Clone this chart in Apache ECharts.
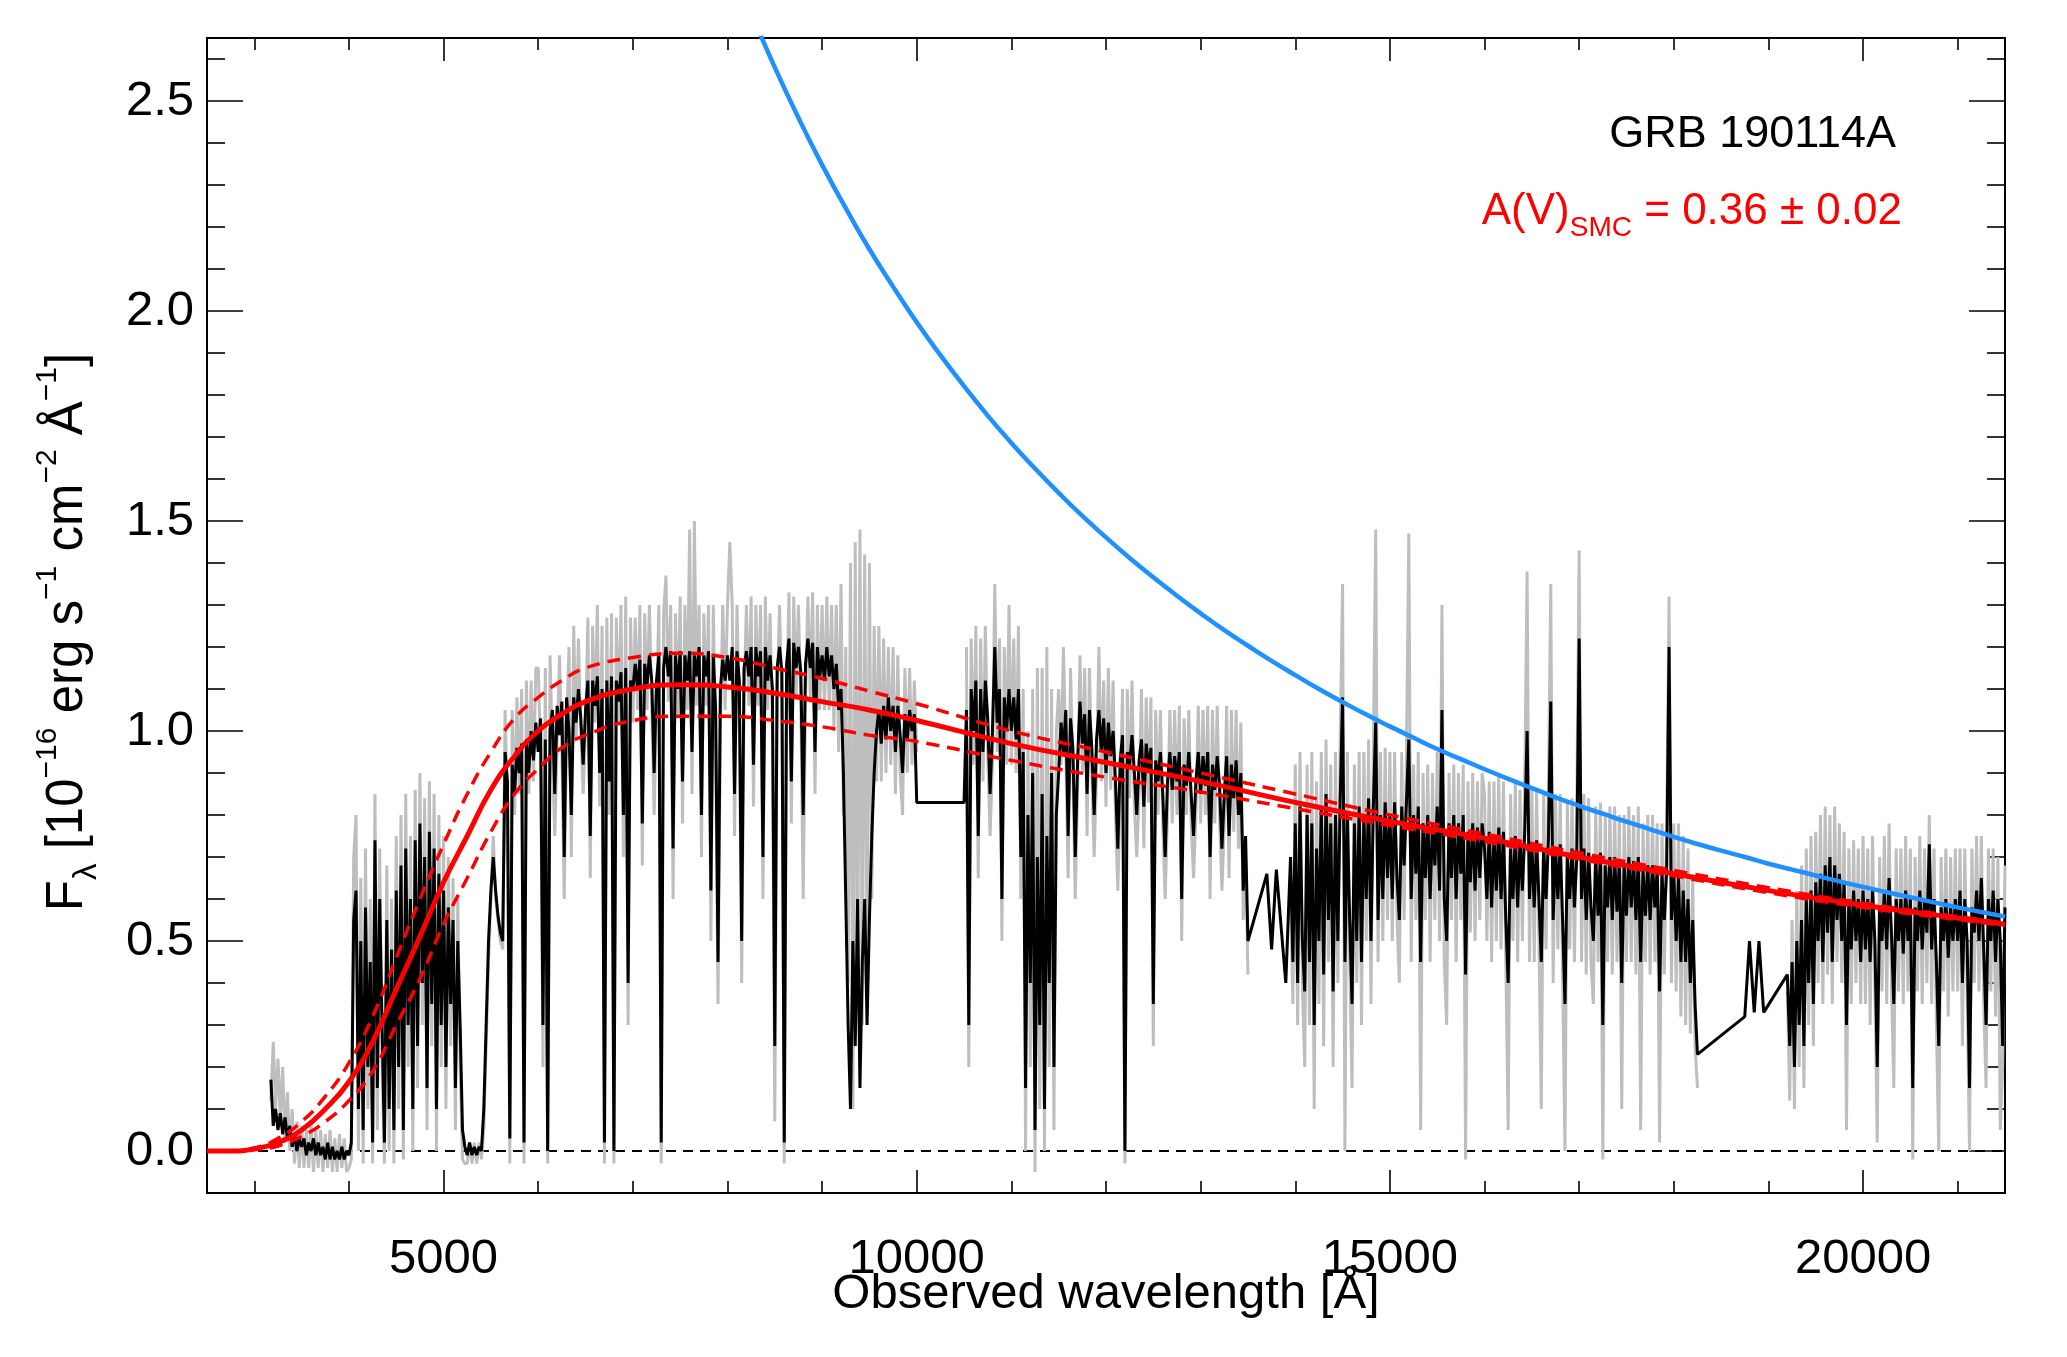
<!DOCTYPE html>
<html>
<head>
<meta charset="utf-8">
<script src="https://cdn.jsdelivr.net/npm/echarts@6/dist/echarts.min.js"></script>
<style>
  html, body { margin: 0; padding: 0; background: #fff; }
  #chart { width: 2067px; height: 1357px; }
</style>
</head>
<body>
<div id="chart"></div>
<script>
// spectrum sampled every 25 A starting at 3000 A (one row = 1000 A)
const waveStart = 3000;
const waveStep = 25;

// binned spectrum (black)
const blackFlux = [
  // 3000
  null, null, null, null, null, null, null, 0.17, 0.06, 0.1, 0.05, 0.09, 0.04, 0.08, 0.03, 0.06, 0.01, 0.04, 0.0, 0.03,
  0.01, 0.03, -0.01, 0.02, 0.0, 0.03, -0.01, 0.02, -0.01, 0.01, -0.02, 0.02, -0.02, 0.01, -0.02, 0.0, -0.02, 0.01, -0.02, 0.0,
  // 4000
  -0.01, 0.02, 0.55, 0.62, 0.1, 0.5, 0.05, 0.58, 0.2, 0.45, 0.02, 0.74, 0.15, 0.6, 0.3, 0.02, 0.55, 0.1, 0.48, 0.05,
  0.62, 0.2, 0.68, 0.05, 0.72, 0.3, 0.6, 0.1, 0.74, 0.25, 0.78, 0.4, 0.7, 0.15, 0.76, 0.35, 0.72, 0.1, 0.66, 0.3,
  // 5000
  0.62, 0.2, 0.58, 0.35, 0.55, 0.15, 0.5, 0.3, 0.05, 0.01, -0.01, 0.02, -0.01, 0.01, -0.01, 0.01, 0.0, 0.1, 0.3, 0.5,
  0.62, 0.7, 0.62, 0.56, 0.52, 0.5, 0.95, 0.88, 0.03, 0.92, 0.85, 0.96, 0.9, 0.97, 0.02, 0.98, 0.9, 1.0, 0.93, 1.02,
  // 6000
  0.95, 1.03, 0.3, 0.98, 0.0, 1.0, 1.05, 0.85, 1.06, 0.99, 1.07, 0.7, 1.08, 1.0, 0.8, 1.08, 1.02, 1.1, 1.03, 0.92,
  1.05, 1.12, 0.75, 1.12, 1.06, 1.13, 0.9, 1.1, 0.02, 1.12, 0.88, 1.13, 0.0, 1.12, 1.07, 1.14, 0.8, 1.15, 0.4, 1.12,
  // 7000
  1.1, 1.16, 1.1, 1.17, 0.78, 1.16, 1.11, 1.18, 1.12, 0.9, 1.12, 1.18, 0.02, 1.15, 1.2, 1.13, 1.19, 0.72, 1.18, 1.1,
  1.19, 0.88, 1.18, 1.12, 1.19, 0.95, 1.18, 1.13, 1.2, 0.8, 1.18, 1.13, 1.19, 0.62, 1.18, 1.05, 0.45, 1.1, 1.17, 1.12,
  // 8000
  1.18, 1.12, 1.2, 0.85, 1.19, 1.12, 0.5, 1.15, 1.19, 1.13, 1.2, 0.92, 1.2, 1.13, 1.19, 0.7, 1.2, 1.12, 1.18, 1.1,
  0.25, 1.15, 1.2, 1.14, 0.02, 1.16, 1.22, 0.88, 1.21, 1.15, 1.2, 1.14, 0.8, 1.16, 1.22, 1.15, 1.21, 0.95, 1.2, 1.13,
  // 9000
  1.18, 1.12, 1.2, 1.13, 1.18, 1.1, 1.16, 1.05, 1.1, 0.9, 0.6, 0.3, 0.1, 0.5, 0.25, 0.6, 0.15, 0.45, 0.6, 0.3,
  0.55, 0.75, 0.9, 1.0, 1.05, 0.97, 1.06, 0.98, 1.08, 1.0, 1.06, 0.95, 1.06, 0.99, 0.9, 1.04, 0.98, 1.05, 1.0, 1.04,
  // 10000
  0.83, null, null, null, null, null, null, null, null, null, null, null, null, null, null, null, null, null, null, null,
  0.83, 1.05, 0.3, 1.1, 1.0, 1.12, 0.75, 1.1, 0.95, 1.12, 1.03, 0.85, 1.0, 1.2, 1.02, 1.1, 0.6, 1.08, 1.0, 1.1,
  // 11000
  1.0, 1.08, 0.98, 1.1, 0.7, 0.95, 0.15, 0.8, 0.4, 0.9, 0.05, 0.7, 0.3, 0.85, 0.1, 0.75, 0.4, 0.9, 0.2, 0.8,
  0.9, 1.02, 0.95, 1.05, 0.75, 1.03, 0.96, 0.7, 0.93, 1.07, 0.97, 1.04, 0.85, 1.05, 0.96, 0.8, 0.98, 1.05, 0.95, 1.03,
  // 12000
  0.9, 1.02, 0.94, 1.0, 0.88, 0.72, 0.93, 0.99, 0.0, 0.95, 0.92, 0.99, 0.9, 0.8, 0.93, 0.98, 0.82, 0.97, 0.91, 0.96,
  0.35, 0.93, 0.88, 0.95, 0.85, 0.7, 0.88, 0.95, 0.86, 0.94, 0.88, 0.95, 0.6, 0.92, 0.87, 0.95, 0.85, 0.75, 0.88, 0.95,
  // 13000
  0.85, 0.94, 0.87, 0.95, 0.7, 0.92, 0.86, 0.94, 0.87, 0.72, 0.85, 0.94, 0.75, 0.92, 0.84, 0.93, 0.8, 0.9, 0.62, 0.75,
  0.5, null, null, null, null, null, null, null, 0.66, null, 0.48, null, 0.67, null, null, null, 0.4, null, 0.7, 0.45,
  // 14000
  0.78, 0.4, 0.82, 0.5, 0.38, 0.8, 0.45, 0.78, 0.3, 0.72, 0.5, 0.82, 0.42, 0.85, 0.55, 0.78, 0.38, 0.8, 0.5, 0.84,
  1.08, 0.45, 0.8, 0.55, 0.35, 0.78, 0.5, 0.82, 0.45, 0.8, 0.6, 0.84, 0.5, 0.82, 1.02, 0.55, 0.8, 0.6, 0.83, 0.65,
  // 15000
  0.8, 0.6, 0.83, 0.65, 0.55, 0.82, 0.68, 0.83, 0.98, 0.6, 0.8, 0.66, 0.82, 0.45, 0.78, 0.65, 0.8, 0.6, 0.78, 0.68,
  0.82, 0.62, 1.05, 0.6, 0.5, 0.78, 0.65, 0.8, 0.6, 0.78, 0.66, 0.8, 0.42, 0.76, 0.64, 0.78, 0.62, 0.77, 0.65, 0.78,
  // 16000
  0.72, 0.6, 0.76, 0.58, 0.75, 0.62, 0.77, 0.6, 0.76, 0.55, 0.4, 0.72, 0.6, 0.75, 0.58, 0.74, 0.62, 0.76, 1.0, 0.6,
  0.73, 0.58, 0.74, 0.6, 0.45, 0.72, 0.6, 0.74, 1.07, 0.55, 0.72, 0.6, 0.73, 0.55, 0.35, 0.7, 0.6, 0.72, 0.58, 0.7,
  // 17000
  1.22, 0.6, 0.72, 0.55, 0.71, 0.58, 0.5, 0.7, 0.56, 0.71, 0.3, 0.68, 0.58, 0.7, 0.55, 0.7, 0.57, 0.69, 0.4, 0.68,
  0.56, 0.7, 0.58, 0.69, 0.55, 0.7, 0.45, 0.67, 0.56, 0.68, 0.55, 0.68, 0.58, 0.67, 0.38, 0.66, 0.55, 0.67, 1.2, 0.55,
  // 18000
  0.66, 0.5, 0.65, 0.45, 0.62, 0.45, 0.6, 0.4, 0.55, 0.35, 0.23, null, null, null, null, null, null, null, null, null,
  null, null, null, null, null, null, null, null, null, null, 0.32, null, 0.5, null, 0.33, null, 0.5, null, 0.33, null,
  // 19000
  null, null, null, null, null, null, null, null, 0.42, 0.25, 0.45, 0.2, 0.5, 0.3, 0.55, 0.25, 0.6, 0.4, 0.62, 0.35,
  0.64, 0.5, 0.66, 0.45, 0.68, 0.52, 0.7, 0.45, 0.68, 0.55, 0.66, 0.5, 0.64, 0.3, 0.6, 0.48, 0.62, 0.5, 0.6, 0.45,
  // 20000
  0.62, 0.48, 0.6, 0.45, 0.62, 0.5, 0.2, 0.58, 0.5, 0.62, 0.48, 0.65, 0.52, 0.35, 0.6, 0.5, 0.6, 0.47, 0.62, 0.5,
  0.6, 0.15, 0.58, 0.5, 0.62, 0.48, 0.6, 0.52, 0.73, 0.48, 0.6, 0.45, 0.25, 0.58, 0.5, 0.6, 0.46, 0.58, 0.5, 0.6,
  // 21000
  0.5, 0.62, 0.4, 0.6, 0.5, 0.15, 0.58, 0.52, 0.62, 0.5, 0.65, 0.48, 0.3, 0.6, 0.5, 0.62, 0.45, 0.6, 0.5, 0.25, 0.58
];

// unbinned spectrum (grey)
const greyFlux = [
  // 3000
  null, null, null, null, null, null, null, 0.12, 0.26, 0.1, 0.22, 0.08, 0.2, 0.02, 0.14, 0.0, 0.1, -0.03, 0.07, -0.04,
  0.06, -0.04, 0.05, -0.04, 0.06, -0.05, 0.05, -0.04, 0.05, -0.05, 0.04, -0.04, 0.05, -0.05, 0.03, -0.05, 0.04, -0.04, 0.03, -0.05,
  // 4000
  -0.04, -0.02, 0.7, 0.8, 0.0, 0.65, -0.03, 0.72, 0.1, 0.6, -0.03, 0.85, 0.05, 0.72, 0.2, -0.03, 0.68, 0.0, 0.6, -0.03,
  0.75, 0.1, 0.8, -0.02, 0.85, 0.2, 0.75, 0.0, 0.86, 0.15, 0.9, 0.3, 0.84, 0.05, 0.88, 0.25, 0.85, 0.0, 0.8, 0.2,
  // 5000
  0.75, 0.1, 0.7, 0.25, 0.65, 0.05, 0.6, 0.2, -0.02, -0.03, -0.03, 0.02, -0.03, 0.02, -0.03, 0.02, -0.02, 0.05, 0.25, 0.45,
  0.6, 0.75, 0.6, 0.55, 0.5, 0.48, 1.05, 0.82, -0.03, 1.05, 0.8, 1.08, 0.85, 1.1, -0.03, 1.12, 0.85, 1.12, 0.88, 1.15,
  // 6000
  1.15, 0.95, 0.2, 1.15, -0.03, 1.18, 0.95, 0.75, 0.97, 1.18, 0.95, 0.6, 1.0, 1.2, 0.7, 1.25, 0.98, 1.22, 1.0, 0.85,
  1.0, 1.27, 0.65, 1.25, 1.02, 1.3, 0.82, 1.25, -0.03, 1.27, 0.8, 1.28, -0.03, 1.27, 1.02, 1.3, 0.7, 1.32, 0.3, 1.27,
  // 7000
  1.02, 1.27, 1.05, 1.3, 0.68, 1.28, 1.05, 1.3, 1.06, 0.8, 1.05, 1.3, -0.03, 1.28, 1.37, 1.07, 1.3, 0.6, 1.28, 1.03,
  1.32, 0.78, 1.3, 1.05, 1.48, 0.85, 1.5, 1.06, 1.3, 0.7, 1.28, 1.06, 1.3, 0.5, 1.3, 0.95, 0.35, 1.0, 1.3, 1.05,
  // 8000
  1.3, 1.45, 1.3, 0.75, 1.3, 1.05, 0.4, 1.08, 1.3, 1.06, 1.32, 0.82, 1.3, 1.06, 1.3, 0.6, 1.32, 1.05, 1.28, 1.0,
  0.07, 1.08, 1.3, 1.07, -0.03, 1.08, 1.33, 0.78, 1.32, 1.08, 1.3, 1.07, 0.6, 1.08, 1.32, 1.08, 1.33, 0.85, 1.3, 1.05,
  // 9000
  1.3, 1.05, 1.32, 1.05, 1.3, 1.0, 1.3, 0.95, 1.35, 0.8, 1.2, 0.4, 1.4, 0.1, 1.45, 0.35, 1.48, 0.3, 1.42, 0.45,
  1.4, 0.6, 1.25, 0.88, 1.25, 0.88, 1.22, 0.9, 1.2, 0.92, 1.2, 0.85, 1.18, 0.9, 0.8, 1.15, 0.9, 1.15, 0.92, 1.12,
  // 10000
  0.95, null, null, null, null, null, null, null, null, null, null, null, null, null, null, null, null, null, null, null,
  null, 1.2, 0.2, 1.22, 0.92, 1.25, 0.65, 1.22, 0.88, 1.25, 0.95, 0.75, 0.92, 1.35, 0.95, 1.22, 0.5, 1.2, 0.92, 1.3,
  // 11000
  0.92, 1.22, 0.9, 1.25, 0.6, 1.1, 0.0, 1.0, 0.2, 1.1, -0.05, 1.15, 0.1, 1.15, 0.0, 1.2, 0.2, 1.1, 0.05, 1.0,
  1.1, 0.92, 1.2, 0.95, 0.65, 1.15, 0.9, 0.6, 0.86, 1.18, 0.9, 1.15, 0.75, 1.15, 0.9, 0.7, 0.9, 1.2, 0.88, 1.12,
  // 12000
  0.82, 1.15, 0.86, 1.12, 0.8, 0.62, 0.85, 1.1, -0.03, 1.1, 0.84, 1.12, 0.82, 0.7, 0.85, 1.1, 0.72, 1.08, 0.83, 1.08,
  0.25, 1.05, 0.8, 1.05, 0.78, 0.6, 0.8, 1.05, 0.78, 1.05, 0.8, 1.06, 0.5, 1.03, 0.8, 1.05, 0.78, 0.65, 0.8, 1.06,
  // 13000
  0.78, 1.05, 0.8, 1.06, 0.6, 1.05, 0.78, 1.06, 0.8, 0.62, 0.78, 1.06, 0.65, 1.05, 0.76, 1.05, 0.72, 1.02, 0.55, 0.7,
  0.42, null, null, null, null, null, null, null, null, null, null, null, null, null, null, null, null, null, 0.6, 0.35,
  // 14000
  0.92, 0.3, 0.95, 0.4, 0.2, 0.92, 0.3, 0.95, 0.1, 0.88, 0.35, 0.95, 0.25, 0.98, 0.45, 0.92, 0.2, 0.95, 0.4, 0.98,
  1.35, 0.0, 0.95, 0.45, 0.15, 0.92, 0.4, 0.95, 0.3, 0.95, 0.5, 0.98, 0.35, 0.95, 1.48, 0.45, 0.95, 0.5, 0.96, 0.55,
  // 15000
  0.95, 0.5, 0.95, 0.55, 0.4, 0.95, 0.55, 0.95, 1.47, 0.45, 0.92, 0.55, 0.95, 0.05, 0.9, 0.55, 0.92, 0.45, 0.9, 0.55,
  0.95, 0.5, 1.3, 0.45, 0.3, 0.9, 0.55, 0.92, 0.45, 0.9, 0.55, 0.92, -0.02, 0.88, 0.52, 0.9, 0.5, 0.88, 0.55, 0.9,
  // 16000
  0.85, 0.5, 0.88, 0.45, 0.88, 0.5, 0.9, 0.48, 0.88, 0.45, 0.05, 0.85, 0.5, 0.88, 0.45, 0.86, 0.5, 0.88, 1.38, 0.45,
  0.86, 0.45, 0.86, 0.5, 0.1, 0.85, 0.48, 0.86, 1.35, 0.4, 0.85, 0.48, 0.85, 0.42, 0.0, 0.83, 0.48, 0.84, 0.45, 0.83,
  // 17000
  1.43, 0.45, 0.85, 0.42, 0.84, 0.45, 0.35, 0.82, 0.45, 0.83, -0.02, 0.8, 0.45, 0.82, 0.42, 0.82, 0.45, 0.8, 0.1, 0.8,
  0.45, 0.82, 0.45, 0.8, 0.42, 0.82, 0.05, 0.78, 0.45, 0.8, 0.42, 0.8, 0.45, 0.78, 0.02, 0.78, 0.42, 0.78, 1.32, 0.4,
  // 18000
  0.78, 0.38, 0.78, 0.32, 0.75, 0.3, 0.72, 0.28, 0.65, 0.25, 0.15, null, null, null, null, null, null, null, null, null,
  null, null, null, null, null, null, null, null, null, null, 0.3, null, 0.55, null, 0.28, null, 0.55, null, 0.3, null,
  // 19000
  null, null, null, null, null, null, null, null, 0.38, 0.12, 0.55, 0.1, 0.62, 0.2, 0.68, 0.15, 0.72, 0.3, 0.75, 0.25,
  0.76, 0.4, 0.8, 0.35, 0.82, 0.42, 0.8, 0.35, 0.82, 0.45, 0.78, 0.4, 0.76, 0.05, 0.72, 0.35, 0.74, 0.4, 0.72, 0.35,
  // 20000
  0.75, 0.35, 0.72, 0.3, 0.75, 0.38, 0.02, 0.7, 0.38, 0.75, 0.35, 0.78, 0.4, 0.15, 0.72, 0.38, 0.72, 0.35, 0.75, 0.38,
  0.72, -0.02, 0.7, 0.38, 0.75, 0.35, 0.72, 0.4, 0.8, 0.35, 0.72, 0.3, 0.0, 0.7, 0.38, 0.72, 0.32, 0.7, 0.38, 0.72,
  // 21000
  0.38, 0.72, 0.25, 0.72, 0.38, 0.0, 0.72, 0.4, 0.75, 0.38, 0.75, 0.35, 0.15, 0.72, 0.38, 0.72, 0.32, 0.7, 0.05, 0.2, 0.68
];

// SMC-extinguished afterglow model and its 1-sigma range
const modelWave = [2500, 2750, 3000, 3250, 3500, 3750, 4000, 4250, 4500, 4750, 5000, 5250, 5500, 5750, 6000, 6250, 6500, 7000, 7500, 8000, 8500, 9000, 9500, 10000, 11000, 12000, 13000, 14000, 15000, 16000, 17000, 18000, 19000, 20000, 21000, 21500];
const modelFlux = [0.0, 0.0, 0.005, 0.02, 0.05, 0.1, 0.165, 0.26, 0.385, 0.51, 0.64, 0.75, 0.86, 0.94, 1.0, 1.04, 1.07, 1.1, 1.11, 1.105, 1.09, 1.07, 1.05, 1.025, 0.97, 0.925, 0.88, 0.83, 0.785, 0.745, 0.7, 0.66, 0.62, 0.585, 0.555, 0.54];
const modelHigh = [0.0, 0.0, 0.007, 0.03, 0.07, 0.13, 0.21, 0.32, 0.46, 0.6, 0.73, 0.85, 0.95, 1.03, 1.08, 1.12, 1.15, 1.175, 1.185, 1.175, 1.15, 1.125, 1.095, 1.065, 1.0, 0.95, 0.9, 0.85, 0.8, 0.755, 0.71, 0.668, 0.627, 0.59, 0.558, 0.543];
const modelLow = [0.0, 0.0, 0.003, 0.012, 0.035, 0.07, 0.12, 0.19, 0.3, 0.41, 0.54, 0.65, 0.76, 0.85, 0.91, 0.96, 0.99, 1.025, 1.035, 1.035, 1.025, 1.01, 0.99, 0.975, 0.93, 0.89, 0.855, 0.815, 0.775, 0.737, 0.695, 0.655, 0.615, 0.58, 0.551, 0.537];

// unextinguished power law (blue)
const powerWave = [8250, 8500, 8750, 9000, 9250, 9500, 9750, 10000, 10250, 10500, 10750, 11000, 11250, 11500, 11750, 12000, 12250, 12500, 12750, 13000, 13250, 13500, 13750, 14000, 14250, 14500, 14750, 15000, 15250, 15500, 15750, 16000, 16250, 16500, 16750, 17000, 17250, 17500, 17750, 18000, 18250, 18500, 18750, 19000, 19250, 19500, 19750, 20000, 20250, 20500, 20750, 21000, 21250, 21500];
const powerFlux = [2.71, 2.58, 2.46, 2.348, 2.245, 2.147, 2.058, 1.973, 1.895, 1.821, 1.751, 1.686, 1.625, 1.567, 1.512, 1.461, 1.412, 1.366, 1.322, 1.28, 1.24, 1.203, 1.167, 1.133, 1.1, 1.069, 1.039, 1.011, 0.984, 0.957, 0.933, 0.909, 0.886, 0.864, 0.842, 0.822, 0.803, 0.784, 0.766, 0.748, 0.731, 0.715, 0.7, 0.684, 0.67, 0.656, 0.642, 0.629, 0.616, 0.604, 0.592, 0.58, 0.569, 0.558];

// axes
const xMin = 2500, xMax = 21500;
const yMin = -0.1, yMax = 2.65;
const xMajor = [5000, 10000, 15000, 20000];
const xMinor = [3000, 4000, 6000, 7000, 8000, 9000, 11000, 12000, 13000, 14000, 16000, 17000, 18000, 19000, 21000];
const yMajor = [0, 0.5, 1.0, 1.5, 2.0, 2.5];
const yMinor = [0.1, 0.2, 0.3, 0.4, 0.6, 0.7, 0.8, 0.9, 1.1, 1.2, 1.3, 1.4, 1.6, 1.7, 1.8, 1.9, 2.1, 2.2, 2.3, 2.4, 2.6];

const FONT = '"Liberation Sans", Arial, Helvetica, sans-serif';

function toPairs(flux) {
  return flux.map((v, i) => [waveStart + i * waveStep, v]);
}
function zip(xs, ys) {
  return xs.map((x, i) => [x, ys[i]]);
}

function xAxisDef(pos, ticks, len, withLabels) {
  return {
    type: 'value', position: pos, min: xMin, max: xMax,
    axisLine: { show: true, onZero: false, lineStyle: { color: '#000', width: 2 } },
    axisTick: { show: true, inside: true, length: len, customValues: ticks, lineStyle: { color: '#000', width: 1.6 } },
    axisLabel: {
      show: withLabels, customValues: ticks, margin: 42,
      fontSize: 49, fontFamily: FONT, color: '#000',
      formatter: v => String(v)
    },
    splitLine: { show: false }
  };
}
function yAxisDef(pos, ticks, len, withLabels) {
  return {
    type: 'value', position: pos, min: yMin, max: yMax,
    axisLine: { show: true, onZero: false, lineStyle: { color: '#000', width: 2 } },
    axisTick: { show: true, inside: true, length: len, customValues: ticks, lineStyle: { color: '#000', width: 1.6 } },
    axisLabel: {
      show: withLabels, customValues: ticks, margin: 13,
      fontSize: 49, fontFamily: FONT, color: '#000',
      formatter: v => v.toFixed(1)
    },
    splitLine: { show: false }
  };
}

function curve(name, data, color, width, type) {
  return {
    name, type: 'line', data, symbol: 'none', silent: true, smooth: true,
    lineStyle: { color, width, type: type || 'solid' }
  };
}

const chart = echarts.init(document.getElementById('chart'), null, { renderer: 'canvas' });

chart.setOption({
  animation: false,
  backgroundColor: '#fff',
  grid: { left: 207, right: 62, top: 38, bottom: 164, containLabel: false, outerBoundsMode: 'none' },
  xAxis: [
    xAxisDef('bottom', xMajor, 23, true),
    xAxisDef('bottom', xMinor, 12, false),
    xAxisDef('top', xMajor, 23, false),
    xAxisDef('top', xMinor, 12, false)
  ],
  yAxis: [
    yAxisDef('left', yMajor, 36, true),
    yAxisDef('left', yMinor, 18, false),
    yAxisDef('right', yMajor, 36, false),
    yAxisDef('right', yMinor, 18, false)
  ],
  series: [
    {
      name: 'zero', type: 'line', data: [[xMin, 0], [xMax, 0]],
      symbol: 'none', silent: true,
      lineStyle: { color: '#000', width: 2, type: [10, 7] }
    },
    {
      name: 'grey', type: 'line', data: toPairs(greyFlux),
      symbol: 'none', silent: true, connectNulls: false,
      lineStyle: { color: '#bebebe', width: 3, join: 'bevel' }
    },
    {
      name: 'black', type: 'line', data: toPairs(blackFlux),
      symbol: 'none', silent: true, connectNulls: true,
      lineStyle: { color: '#000', width: 3, join: 'bevel' }
    },
    curve('high', zip(modelWave, modelHigh), '#ff0000', 3.5, [13, 8]),
    curve('low', zip(modelWave, modelLow), '#ff0000', 3.5, [13, 8]),
    curve('model', zip(modelWave, modelFlux), '#ff0000', 5),
    curve('power', zip(powerWave, powerFlux), '#1e90ff', 4.5)
  ],
  graphic: [
    {
      type: 'text', x: 1106, y: 1294, silent: true,
      style: { text: 'Observed wavelength [Å]', fontSize: 49, fontFamily: FONT, fill: '#000', align: 'center', verticalAlign: 'middle' }
    },
    {
      type: 'text', x: 68, y: 632, rotation: Math.PI / 2, silent: true,
      style: {
        text: '{m|F}{sub|λ}{m| [10}{sup|−16}{m| erg s}{sup|−1}{m| cm}{sup|−2}{m| Å}{sup|−1}{m|]}',
        align: 'center', verticalAlign: 'middle',
        rich: {
          m: { fontSize: 51, fontFamily: FONT, fill: '#000', lineHeight: 70 },
          sup: { fontSize: 30, fontFamily: FONT, fill: '#000', lineHeight: 34, verticalAlign: 'top' },
          sub: { fontSize: 33, fontFamily: FONT, fill: '#000', lineHeight: 34, verticalAlign: 'bottom' }
        }
      }
    },
    {
      type: 'text', x: 1896, y: 135, silent: true,
      style: { text: 'GRB 190114A', fontSize: 45, fontFamily: FONT, fill: '#000', align: 'right', verticalAlign: 'middle' }
    },
    {
      type: 'text', x: 1902, y: 212, silent: true,
      style: {
        text: '{m|A(V)}{s|SMC}{m| = 0.36 ± 0.02}',
        align: 'right', verticalAlign: 'middle',
        rich: {
          m: { fontSize: 44, fontFamily: FONT, fill: '#ff0000', lineHeight: 60 },
          s: { fontSize: 28, fontFamily: FONT, fill: '#ff0000', lineHeight: 28, verticalAlign: 'bottom' }
        }
      }
    }
  ]
});
</script>
</body>
</html>
